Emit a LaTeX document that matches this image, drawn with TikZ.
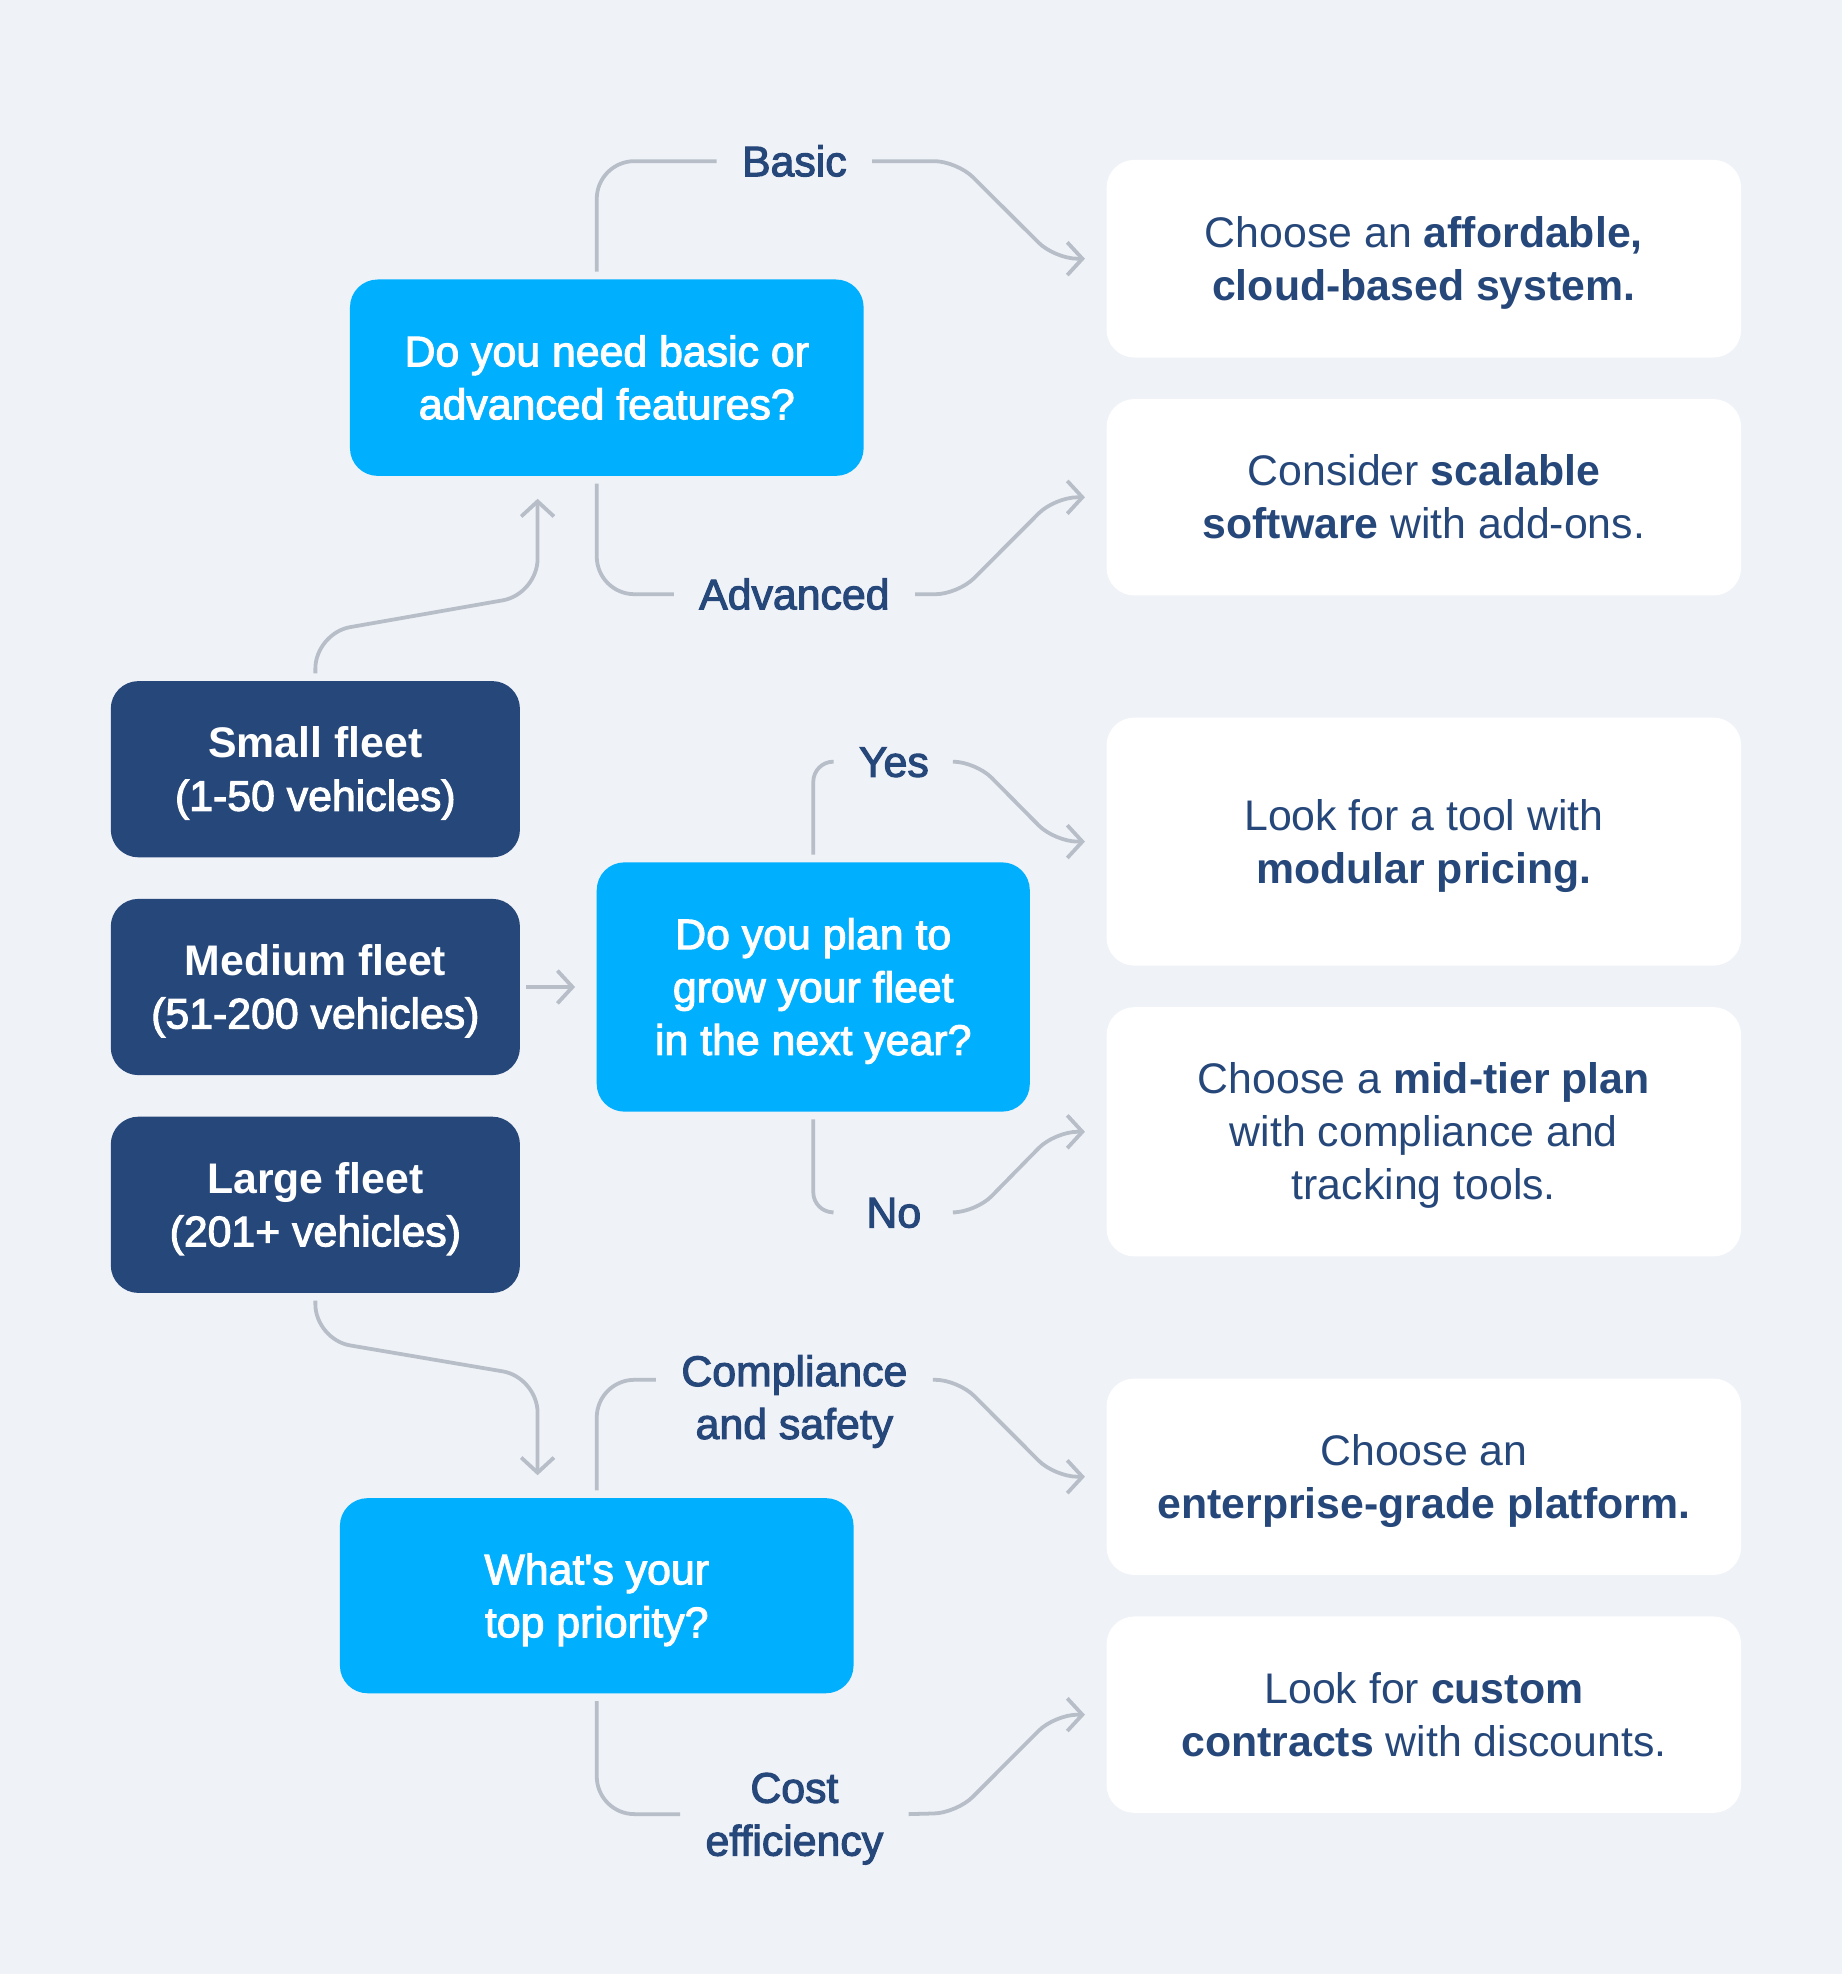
\documentclass[tikz,border=0pt]{standalone}
\usepackage{fontspec}
\setmainfont{Liberation Sans}
\newfontfamily\medfont{Liberation Sans}[FakeBold=2.5]
\usetikzlibrary{arrows.meta,calc}
\definecolor{bgc}{HTML}{EFF2F7}
\definecolor{skyblue}{HTML}{00B0FF}
\definecolor{navyc}{HTML}{26477A}
\definecolor{linec}{HTML}{B7BEC8}
\newcommand{\mytopstrut}{\rule{0pt}{31pt}}
\begin{document}
\begin{tikzpicture}[x=1pt,y=-1pt,
  every node/.style={font=\fontsize{34}{42}\selectfont, align=center, inner sep=0pt,
    execute at end node={\rule[-7pt]{0pt}{7pt}}},
  qbox/.style={fill=skyblue, rounded corners=22pt, text=white, font=\fontsize{34}{42}\selectfont\medfont},
  fbox/.style={fill=navyc, rounded corners=22pt, text=white, minimum width=325pt, minimum height=140pt},
  abox/.style={fill=white, rounded corners=22pt, text=navyc, minimum width=504pt},
  lbl/.style={text=navyc, font=\fontsize{34}{42}\selectfont\medfont, inner xsep=20pt, inner ysep=0pt},
  conn/.style={draw=linec, line width=3pt},
  arr/.style={conn, -{Straight Barb[length=12pt,width=26pt]}},
]
\fill[bgc] (0,0) rectangle (1463,1568);
\useasboundingbox (0,0) rectangle (1463,1568);

% question boxes
\node[qbox, minimum width=408pt, minimum height=156pt] (q1) at (482,300) {\mytopstrut Do you need basic or\\advanced features?};
\node[qbox, minimum width=344pt, minimum height=198pt] (q2) at (646,784) {\mytopstrut Do you plan to\\grow your fleet\\in the next year?};
\node[qbox, minimum width=408pt, minimum height=155pt] (q3) at (474,1267.5) {\mytopstrut What's your\\top priority?};

% fleet boxes
\node[fbox] (s) at (250.5,611) {\mytopstrut\textbf{Small fleet}\\{\medfont (1-50 vehicles)}};
\node[fbox] (m) at (250.5,784) {\mytopstrut\textbf{Medium fleet}\\{\medfont (51-200 vehicles)}};
\node[fbox] (l) at (250.5,957) {\mytopstrut\textbf{Large fleet}\\{\medfont (201+ vehicles)}};

% answer boxes
\node[abox, minimum height=157pt] (w1) at (1131,205.5) {\mytopstrut Choose an \textbf{affordable,}\\\textbf{cloud-based system.}};
\node[abox, minimum height=156pt] (w2) at (1131,395) {\mytopstrut Consider \textbf{scalable}\\\textbf{software} with add-ons.};
\node[abox, minimum height=197pt] (w3) at (1131,668.5) {\mytopstrut Look for a tool with\\\textbf{modular pricing.}};
\node[abox, minimum height=198pt] (w4) at (1131,899) {\mytopstrut Choose a \textbf{mid-tier plan}\\with compliance and\\tracking tools.};
\node[abox, minimum height=156pt] (w5) at (1131,1173) {\mytopstrut Choose an\\\textbf{enterprise-grade platform.}};
\node[abox, minimum height=156pt] (w6) at (1131,1362) {\mytopstrut Look for \textbf{custom}\\\textbf{contracts} with discounts.};

% labels
\node[lbl] (basic) at (631,128) {\mytopstrut Basic};
\node[lbl] (adv) at (631,472) {\mytopstrut Advanced};
\node[lbl] (yes) at (710,605) {\mytopstrut Yes};
\node[lbl, inner xsep=27pt] (no) at (710,963) {\mytopstrut No};
\node[lbl] (comp) at (631,1110) {\mytopstrut Compliance\\and safety};
\node[lbl] (cost) at (631,1441) {\mytopstrut Cost\\efficiency};

% connectors: question 1
\draw[conn, rounded corners=30pt] ([xshift=-8pt,yshift=6pt]q1.north) |- (basic.west);
\draw[arr, rounded corners=18pt] (basic.east) -- (760,128) -- ([xshift=-41pt]w1.west) -- ([xshift=-17pt]w1.west);
\draw[conn, rounded corners=30pt] ([xshift=-8pt,yshift=-6pt]q1.south) |- (adv.west);
\draw[arr, rounded corners=18pt] (adv.east) -- (761,472) -- ([xshift=-41pt]w2.west) -- ([xshift=-17pt]w2.west);

% fleet connectors
\draw[arr, rounded corners=28pt] ([yshift=6pt]s.north) -- (250.5,503) -- (427,472) -- ([xshift=-55pt,yshift=-18pt]q1.south);
\draw[arr] ([xshift=5pt]m.east) -- ([xshift=-17pt]q2.west);
\draw[arr, rounded corners=28pt] ([yshift=-6pt]l.south) -- (250.5,1064) -- (427,1094) -- ([xshift=-47pt,yshift=18pt]q3.north);

% connectors: question 2
\draw[conn, rounded corners=16pt] ([yshift=6pt]q2.north) |- (yes.west);
\draw[arr, rounded corners=18pt] (yes.east) -- (775,605) -- ([xshift=-41pt]w3.west) -- ([xshift=-17pt]w3.west);
\draw[conn, rounded corners=16pt] ([yshift=-6pt]q2.south) |- (no.west);
\draw[arr, rounded corners=18pt] (no.east) -- (775,963) -- ([xshift=-41pt]w4.west) -- ([xshift=-17pt]w4.west);

% connectors: question 3
\draw[conn, rounded corners=30pt] ([yshift=6pt]q3.north) |- ([yshift=14pt]comp.west);
\draw[arr, rounded corners=18pt] ([yshift=14pt]comp.east) -- (761,1096) -- ([xshift=-41pt]w5.west) -- ([xshift=-17pt]w5.west);
\draw[conn, rounded corners=30pt] ([yshift=-6pt]q3.south) |- (cost.west);
\draw[arr, rounded corners=18pt] (cost.east) -- (760,1440) -- ([xshift=-41pt]w6.west) -- ([xshift=-17pt]w6.west);
\end{tikzpicture}
\end{document}
